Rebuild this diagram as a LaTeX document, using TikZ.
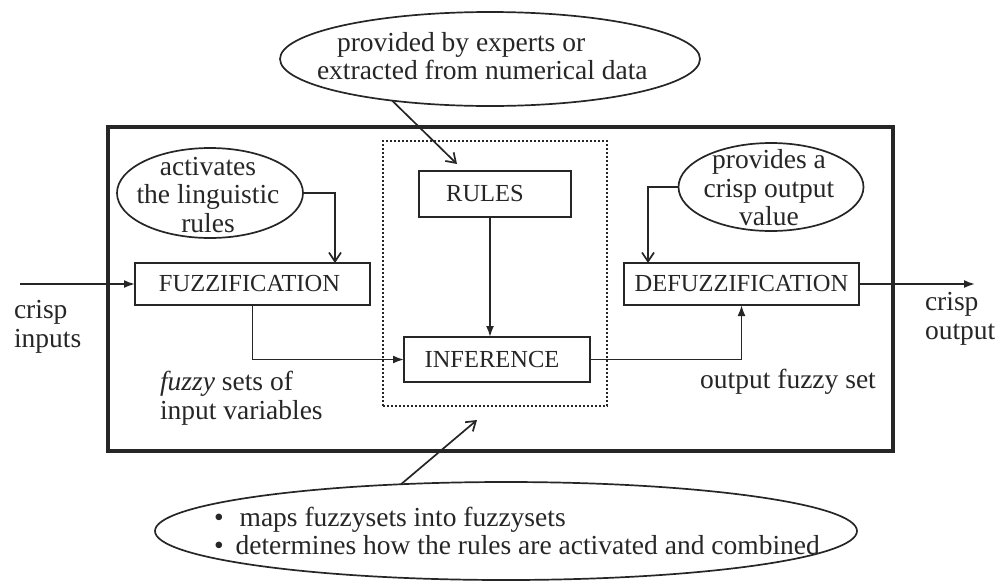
\documentclass[tikz,border=0pt]{standalone}
\usepackage{fontspec}
\setmainfont{Liberation Serif}
\usetikzlibrary{arrows.meta,shapes.geometric,calc}
\definecolor{ink}{gray}{0.15}
\begin{document}
\begin{tikzpicture}[x=1pt,y=-1pt,
  every node/.style={text=ink, inner sep=0pt, outer sep=0pt},
  txt/.style={font=\fontsize{27.5}{28.5}\selectfont},
  boxlabel/.style={font=\fontsize{24.5}{26}\selectfont},
  block/.style={draw=ink, line width=2.6pt, rectangle, boxlabel},
  bubble/.style={draw=ink, line width=1.7pt, ellipse},
  flow/.style={draw=ink, line width=1.8pt, -{Latex[length=11pt,width=8pt]}},
  note/.style={draw=ink, line width=1.7pt, -{Straight Barb[length=9pt,width=12pt]}},
]
\useasboundingbox (0,0) rectangle (1001,582);

% system frame and the inference core
\node[draw=ink, line width=3.2pt, minimum width=785pt, minimum height=324pt] (sys) at (500.5,289) {};
\node[draw=ink, line width=2pt, dash pattern=on 1.6pt off 2.4pt,
      minimum width=224pt, minimum height=265pt] (core) at (495,273.5) {};

% processing blocks
\node[block, minimum width=152pt, minimum height=46pt] (rules) at (495,194) {\hspace*{-20pt}RULES};
\node[block, minimum width=186pt, minimum height=45pt] (inf) at (497,359.5) {\hspace*{-10pt}INFERENCE};
\node[block, minimum width=235pt, minimum height=42pt] (fuzz) at (252.5,284) {\hspace*{-6pt}FUZZIFICATION};
\node[block, minimum width=235pt, minimum height=42pt] (defuzz) at (741.5,284) {DEFUZZIFICATION};

% explanatory bubbles
\node[bubble, minimum width=420pt, minimum height=94pt] (src) at (490,59) {};
\node[txt, align=left, anchor=west] (srctxt) at (317,56)
  {\hspace*{20pt}provided by experts or\\extracted from numerical data};

\node[bubble, minimum width=186pt, minimum height=90pt] (act) at (210,193) {};
\node[txt, align=center] (acttxt) at (208,195) {activates\\the linguistic\\rules};

\node[bubble, minimum width=185pt, minimum height=88pt] (prov) at (771,187) {};
\node[txt, align=center] (provtxt) at (769,188) {provides a\\crisp output\\value};

\node[bubble, minimum width=702pt, minimum height=98pt] (map) at (506,531) {};
\node[txt, align=left, anchor=west] (maptxt) at (214,531)
  {\textbullet\hspace{16pt}maps fuzzysets into fuzzysets\\
   \textbullet\hspace{12pt}determines how the rules are activated and combined};

% signal labels
\node[txt, align=left, anchor=west] (cin) at (14,327) {crisp\\inputs};
\node[txt, align=left, anchor=west] (fset) at (160,398) {\textit{fuzzy} sets of\\input variables};
\node[txt] (ofs) at (788,382) {output fuzzy set};
\node[txt, align=left, anchor=west] (cout) at (925,319) {crisp\\output};

% free ends
\coordinate (inp) at (20,284);
\coordinate (outp) at (975,284);
\coordinate (srctip) at (457,164);
\coordinate (maptip) at (477,420);

% signal flow
\draw[flow] (inp) -- (fuzz.west);
\draw[flow] (defuzz.east) -- (outp);
\draw[flow] ($(rules.south)+(-5,0)$) -- ($(rules.south |- inf.north)+(-5,0)$);
\draw[flow] (fuzz.south) |- (inf.west);
\draw[flow] (inf.east) -| (defuzz.south);

% annotation pointers
\draw[note] (src.203) -- (srctip);
\draw[note] (act.east) -| ($(fuzz.north west)+(200,0)$);
\draw[note] (prov.west) -| ($(defuzz.north west)+(24,0)$);
\draw[note] (map.156) -- (maptip);
\end{tikzpicture}
\end{document}
